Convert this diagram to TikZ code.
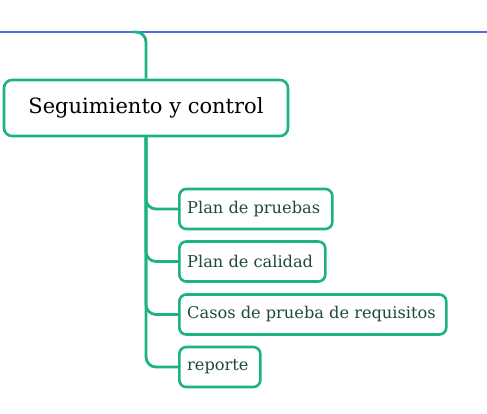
\documentclass[tikz,border=0pt]{standalone}
\usepackage{fontspec}
\setmainfont{DejaVu Serif}
\definecolor{tealgreen}{HTML}{1DB282}
\definecolor{lineblue}{HTML}{4F6FD6}
\definecolor{childtext}{HTML}{1E4A38}
\begin{document}
\begin{tikzpicture}[x=1pt,y=-1pt,
  mainbox/.style={draw=tealgreen,line width=2.6pt,rounded corners=8pt,fill=white,minimum width=284pt,minimum height=56pt,inner sep=0pt,font=\fontsize{21}{24}\selectfont,text=black},
  childbox/.style={draw=tealgreen,line width=2.6pt,rounded corners=7pt,fill=white,minimum height=40pt,inner sep=0pt,anchor=west},
  childtxt/.style={anchor=west,inner sep=0pt,font=\fontsize{16.2}{19}\selectfont,text=childtext},
  branch/.style={draw=tealgreen,line width=2.8pt,rounded corners=10pt}]
\useasboundingbox (0,0) rectangle (487,414);
\coordinate (lstart) at (0,32);
\coordinate (lend) at (487,32);
\coordinate (jt) at (133,32);
\draw[lineblue,line width=2.4pt] (lstart) -- (lend);
\node[mainbox] (main) at (146,108) {Seguimiento y control};
\draw[branch] (jt) -| (main.north);
\node[childbox,minimum width=153pt] (c1) at (178,209) {};
\node[childbox,minimum width=146pt] (c2) at (178,261.5) {};
\node[childbox,minimum width=267pt] (c3) at (178,314.5) {};
\node[childbox,minimum width=81pt] (c4) at (178,367) {};
\node[childtxt] (t1) at (187,209) {Plan de pruebas};
\node[childtxt] (t2) at (187,261.5) {Plan de calidad};
\node[childtxt] (t3) at (187,314.5) {Casos de prueba de requisitos};
\node[childtxt] (t4) at (187,367) {reporte};
\foreach \c in {c1,c2,c3,c4}{\draw[branch] (main.south) |- (\c.west);}
\end{tikzpicture}
\end{document}
